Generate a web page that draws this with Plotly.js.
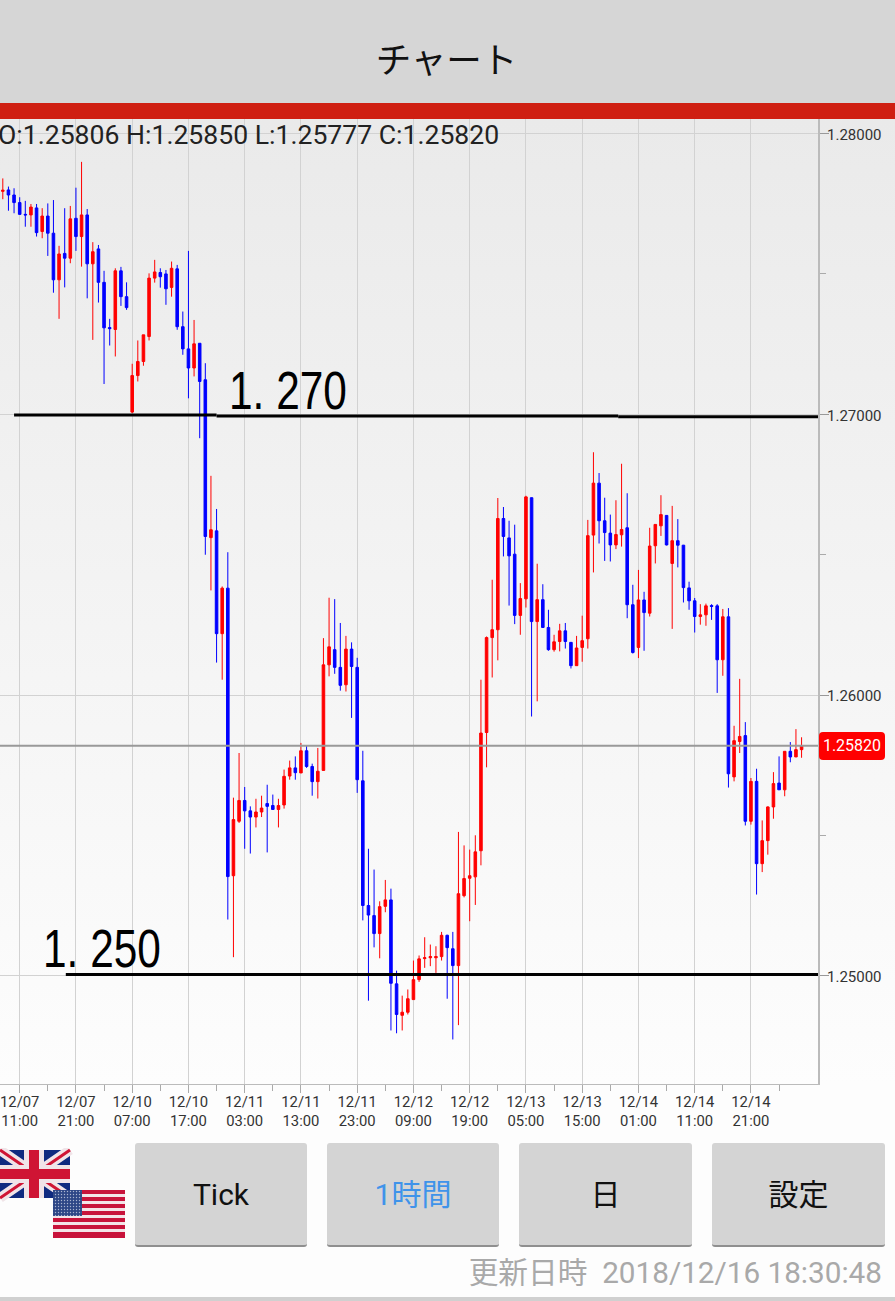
<!DOCTYPE html>
<html>
<head>
<meta charset="utf-8">
<script src="https://cdn.plot.ly/plotly-3.0.1.min.js"></script>
<style>
  html, body { margin: 0; padding: 0; width: 895px; height: 1301px; overflow: hidden; }
  body { position: relative; font-family: Roboto, "Noto Sans CJK JP", sans-serif;
         background: linear-gradient(#eaeaea 119px, #fdfdfd 1084px, #fdfdfd 1301px); }
  #chart { position: absolute; left: 0; top: 0; width: 895px; height: 1301px; }
  #head { position: absolute; left: 0; top: 0; width: 895px; height: 103px; background: #d6d6d6;
          text-align: center; line-height: 118px; font-size: 35.5px; color: #111; font-family: "Noto Sans CJK JP", sans-serif; }
  #head span { position: relative; top: -1px; left: -1px; }
  #bar { position: absolute; left: 0; top: 103px; width: 895px; height: 16px; background: #cf1f12; }
  .btn { position: absolute; top: 1143px; height: 102px; background: #d4d4d4; border-radius: 3px;
         border-bottom: 2px solid #8f8f8f; text-align: center; line-height: 104px; font-size: 30px; color: #111;
         box-sizing: content-box; font-family: Roboto, "Noto Sans CJK JP", sans-serif; }
  #stamp { position: absolute; right: 13px; top: 1255px; font-size: 29.7px; color: #a9a9a9; line-height: 36px;
           font-family: Roboto, "Noto Sans CJK JP", sans-serif; white-space: nowrap; }
  #rule { position: absolute; left: 0; top: 1297px; width: 895px; height: 4px; background: #d0d0d0; }
  #flags { position: absolute; left: 0; top: 1148px; }
  #lastTag { position: absolute; left: 819px; top: 732px; width: 66px; height: 28px; line-height: 28px; background: #ff0000;
             border-radius: 4px; color: #fff; text-align: center; font-size: 16px; font-family: Roboto, sans-serif; }
  .hand { position: absolute; font-family: "Liberation Sans", sans-serif; font-size: 53px; line-height: 60px; color: #000;
          white-space: pre; transform: scaleX(0.8); transform-origin: left top; }
</style>
</head>
<body>
<div id="chart"></div>
<div id="head"><span>チャート</span></div>
<div id="bar"></div>
<div class="hand" style="left:229px;top:361px;">1. 270</div>
<div class="hand" style="left:43px;top:919px;">1. 250</div>
<div id="lastTag"></div>
<svg id="flags" width="130" height="95" viewBox="0 0 130 95">
  <defs>
    <pattern id="stars" width="3" height="3" patternUnits="userSpaceOnUse">
      <rect width="3" height="3" fill="#2d4686"/>
      <circle cx="1.5" cy="1.5" r="0.7" fill="#aab4d0"/>
    </pattern>
  </defs>
  <rect x="0" y="2" width="70" height="48" fill="#0f2a80"/>
  <path d="M0 2 L70 50 M70 2 L0 50" stroke="#f0e4e8" stroke-width="10"/>
  <path d="M0 2 L70 50 M70 2 L0 50" stroke="#cf1434" stroke-width="3"/>
  <rect x="24" y="2" width="20" height="48" fill="#f0e4e8"/>
  <rect x="0" y="17" width="70" height="18" fill="#f0e4e8"/>
  <rect x="29" y="2" width="10" height="48" fill="#cf1434"/>
  <rect x="0" y="21" width="70" height="10" fill="#cf1434"/>
  <rect x="53" y="42" width="72" height="48" fill="#f3e4e8"/>
  <g fill="#c8133b">
    <rect x="53" y="42" width="72" height="4"/><rect x="53" y="49" width="72" height="4"/>
    <rect x="53" y="56" width="72" height="4"/><rect x="53" y="63" width="72" height="4"/>
    <rect x="53" y="70" width="72" height="4"/><rect x="53" y="77" width="72" height="4"/>
    <rect x="53" y="84" width="72" height="6"/>
  </g>
  <rect x="53" y="42" width="29" height="26" fill="url(#stars)"/>
</svg>
<div class="btn" style="left:135px;width:172px;">Tick</div>
<div class="btn" style="left:327px;width:172px;color:#3f93ea;">1時間</div>
<div class="btn" style="left:519px;width:173px;">日</div>
<div class="btn" style="left:712px;width:173px;">設定</div>
<div id="stamp">更新日時&nbsp; 2018/12/16 18:30:48</div>
<div id="rule"></div>
<script>
// hourly candles
const openVals = [
  1.27794, 1.27799, 1.27781, 1.27754, 1.27712, 1.27710, 1.27735, 1.27651, 1.27706, 1.27645,
  1.27479, 1.27573, 1.27556, 1.27698, 1.27633, 1.27710, 1.27536, 1.27589, 1.27470, 1.27309,
  1.27302, 1.27511, 1.27419, 1.27008, 1.27138, 1.27188, 1.27277, 1.27485, 1.27505, 1.27500,
  1.27452, 1.27518, 1.27312, 1.27233, 1.27165, 1.27253, 1.27123, 1.26561, 1.26585, 1.26219,
  1.26381, 1.25357, 1.25551, 1.25625, 1.25588, 1.25566, 1.25584, 1.25614, 1.25607, 1.25593,
  1.25609, 1.25712, 1.25741, 1.25723, 1.25802, 1.25746, 1.25692, 1.25732, 1.26108, 1.26162,
  1.26099, 1.26037, 1.26164, 1.26099, 1.25695, 1.25251, 1.25215, 1.25151, 1.25248, 1.25271,
  1.24972, 1.24860, 1.24871, 1.24916, 1.24987, 1.25062, 1.25065, 1.25065, 1.25069, 1.25145,
  1.25097, 1.25037, 1.25286, 1.25348, 1.25353, 1.25446, 1.25867, 1.26205, 1.26233, 1.26629,
  1.26560, 1.26502, 1.26284, 1.26343, 1.26703, 1.26262, 1.26340, 1.26241, 1.26162, 1.26191,
  1.26229, 1.26188, 1.26105, 1.26170, 1.26201, 1.26570, 1.26755, 1.26621, 1.26577, 1.26535,
  1.26571, 1.26596, 1.26322, 1.26170, 1.26339, 1.26292, 1.26532, 1.26603, 1.26640, 1.26469,
  1.26550, 1.26534, 1.26382, 1.26336, 1.26280, 1.26286, 1.26319, 1.26318, 1.26126, 1.26279,
  1.25709, 1.25835, 1.25856, 1.25551, 1.25693, 1.25400, 1.25482, 1.25602, 1.25687, 1.25663,
  1.25800, 1.25780, 1.25806
];
const highVals = [
  1.27840, 1.27811, 1.27805, 1.27773, 1.27760, 1.27749, 1.27749, 1.27734, 1.27751, 1.27763,
  1.27600, 1.27734, 1.27742, 1.27807, 1.27899, 1.27731, 1.27613, 1.27603, 1.27511, 1.27340,
  1.27520, 1.27525, 1.27470, 1.27180, 1.27263, 1.27283, 1.27502, 1.27550, 1.27520, 1.27514,
  1.27544, 1.27532, 1.27366, 1.27582, 1.27336, 1.27253, 1.27182, 1.26781, 1.26663, 1.26387,
  1.26509, 1.25635, 1.25794, 1.25673, 1.25604, 1.25631, 1.25642, 1.25681, 1.25646, 1.25631,
  1.25735, 1.25767, 1.25782, 1.25830, 1.25820, 1.25756, 1.25812, 1.26203, 1.26347, 1.26342,
  1.26257, 1.26211, 1.26188, 1.26133, 1.25802, 1.25453, 1.25379, 1.25266, 1.25342, 1.25311,
  1.25019, 1.24930, 1.24952, 1.25055, 1.25073, 1.25138, 1.25112, 1.25106, 1.25157, 1.25147,
  1.25157, 1.25513, 1.25465, 1.25450, 1.25501, 1.26055, 1.26209, 1.26411, 1.26702, 1.26670,
  1.26621, 1.26607, 1.26399, 1.26710, 1.26704, 1.26468, 1.26395, 1.26304, 1.26215, 1.26254,
  1.26257, 1.26189, 1.26211, 1.26283, 1.26624, 1.26865, 1.26791, 1.26703, 1.26643, 1.26694,
  1.26824, 1.26719, 1.26393, 1.26446, 1.26368, 1.26596, 1.26608, 1.26712, 1.26641, 1.26674,
  1.26627, 1.26535, 1.26404, 1.26346, 1.26324, 1.26326, 1.26324, 1.26324, 1.26307, 1.26310,
  1.25891, 1.26058, 1.25904, 1.25705, 1.25738, 1.25554, 1.25604, 1.25726, 1.25782, 1.25800,
  1.25833, 1.25879, 1.25850
];
const lowVals = [
  1.27766, 1.27725, 1.27716, 1.27710, 1.27668, 1.27668, 1.27633, 1.27627, 1.27564, 1.27433,
  1.27340, 1.27452, 1.27538, 1.27582, 1.27526, 1.27413, 1.27265, 1.27398, 1.27108, 1.27245,
  1.27206, 1.27386, 1.27372, 1.27004, 1.27117, 1.27173, 1.27263, 1.27469, 1.27451, 1.27390,
  1.27419, 1.27301, 1.27212, 1.27057, 1.27135, 1.26915, 1.26500, 1.26373, 1.26116, 1.26055,
  1.25201, 1.25067, 1.25545, 1.25453, 1.25436, 1.25529, 1.25566, 1.25440, 1.25593, 1.25529,
  1.25596, 1.25699, 1.25699, 1.25723, 1.25741, 1.25642, 1.25632, 1.25732, 1.26067, 1.26076,
  1.26016, 1.26013, 1.25919, 1.25652, 1.25198, 1.24912, 1.25102, 1.25063, 1.25227, 1.24806,
  1.24796, 1.24806, 1.24863, 1.24916, 1.24979, 1.25029, 1.25035, 1.25011, 1.25055, 1.24919,
  1.24774, 1.24825, 1.25280, 1.25195, 1.25253, 1.25394, 1.25743, 1.26063, 1.26124, 1.26494,
  1.26319, 1.26253, 1.26215, 1.26312, 1.25924, 1.25978, 1.26241, 1.26158, 1.26155, 1.26156,
  1.26166, 1.26095, 1.26105, 1.26119, 1.26166, 1.26437, 1.26540, 1.26478, 1.26476, 1.26520,
  1.26529, 1.26274, 1.26148, 1.26132, 1.26158, 1.26280, 1.26469, 1.26567, 1.26533, 1.26236,
  1.26455, 1.26330, 1.26304, 1.26223, 1.26251, 1.26247, 1.26268, 1.26008, 1.26069, 1.25671,
  1.25693, 1.25794, 1.25536, 1.25539, 1.25290, 1.25370, 1.25432, 1.25560, 1.25663, 1.25640,
  1.25761, 1.25780, 1.25777
];
const closeVals = [
  1.27798, 1.27781, 1.27754, 1.27712, 1.27710, 1.27738, 1.27647, 1.27706, 1.27645, 1.27479,
  1.27571, 1.27556, 1.27696, 1.27633, 1.27710, 1.27536, 1.27579, 1.27470, 1.27308, 1.27305,
  1.27511, 1.27419, 1.27380, 1.27138, 1.27188, 1.27283, 1.27485, 1.27507, 1.27490, 1.27447,
  1.27520, 1.27312, 1.27233, 1.27165, 1.27251, 1.27117, 1.26565, 1.26589, 1.26219, 1.26381,
  1.25354, 1.25557, 1.25625, 1.25588, 1.25566, 1.25584, 1.25598, 1.25604, 1.25593, 1.25607,
  1.25711, 1.25741, 1.25724, 1.25802, 1.25746, 1.25692, 1.25729, 1.26108, 1.26172, 1.26099,
  1.26035, 1.26164, 1.26102, 1.25699, 1.25251, 1.25217, 1.25151, 1.25247, 1.25271, 1.24974,
  1.24863, 1.24871, 1.24919, 1.24987, 1.25061, 1.25065, 1.25069, 1.25069, 1.25145, 1.25101,
  1.25037, 1.25293, 1.25347, 1.25357, 1.25442, 1.25865, 1.26205, 1.26233, 1.26629, 1.26565,
  1.26496, 1.26284, 1.26344, 1.26706, 1.26262, 1.26340, 1.26241, 1.26162, 1.26190, 1.26229,
  1.26191, 1.26105, 1.26168, 1.26194, 1.26568, 1.26755, 1.26621, 1.26579, 1.26535, 1.26572,
  1.26590, 1.26322, 1.26152, 1.26339, 1.26294, 1.26531, 1.26608, 1.26643, 1.26535, 1.26550,
  1.26534, 1.26383, 1.26336, 1.26280, 1.26286, 1.26318, 1.26316, 1.26126, 1.26279, 1.25720,
  1.25838, 1.25853, 1.25551, 1.25693, 1.25400, 1.25482, 1.25602, 1.25685, 1.25663, 1.25800,
  1.25780, 1.25806, 1.25820
];

const tickHours = [3, 13, 23, 33, 43, 53, 63, 73, 83, 93, 103, 113, 123, 133];
const tickLabels = [
  '12/07<br>11:00', '12/07<br>21:00', '12/10<br>07:00', '12/10<br>17:00', '12/11<br>03:00',
  '12/11<br>13:00', '12/11<br>23:00', '12/12<br>09:00', '12/12<br>19:00', '12/13<br>05:00',
  '12/13<br>15:00', '12/14<br>01:00', '12/14<br>11:00', '12/14<br>21:00'
];
const priceTicks = [1.25, 1.26, 1.27, 1.28];
const priceLabels = ['1.25000', '1.26000', '1.27000', '1.28000'];

// hand drawn levels on the screenshot, [from hour, to hour, price]
const level270 = [[2, 38, 1.26998], [38, 109.4, 1.26994], [109.4, 144.92, 1.26991]];
const level250 = [[11.2, 144.92, 1.25005]];

const last = openVals.length - 1;
const lastClose = closeVals[last];
const hours = openVals.map((_, i) => i);

document.getElementById('lastTag').textContent = lastClose.toFixed(5);

const trace = {
  type: 'candlestick',
  x: hours,
  open: openVals,
  high: highVals,
  low: lowVals,
  close: closeVals,
  increasing: { line: { color: '#ff0000', width: 1 }, fillcolor: '#ff0000' },
  decreasing: { line: { color: '#0000ff', width: 1 }, fillcolor: '#0000ff' },
  whiskerwidth: 0,
  hoverinfo: 'skip'
};

function levelShapes(segments) {
  return segments.map(([x0, x1, y]) => ({
    type: 'line', xref: 'x', yref: 'y', x0, x1, y0: y, y1: y,
    line: { color: '#000', width: 3 }, layer: 'above'
  }));
}

const layout = {
  width: 895,
  height: 1301,
  margin: { l: 0, r: 77, t: 119, b: 217, pad: 0 },
  paper_bgcolor: 'rgba(0,0,0,0)',
  plot_bgcolor: 'rgba(0,0,0,0)',
  showlegend: false,
  dragmode: false,
  boxgap: 0.35,
  font: { family: 'Roboto, sans-serif', size: 15, color: '#333' },
  xaxis: {
    type: 'linear',
    range: [-0.5, 144.92],
    rangeslider: { visible: false },
    tickmode: 'array',
    tickvals: tickHours,
    ticktext: tickLabels,
    ticks: 'outside',
    ticklen: 8,
    tickcolor: '#aaa',
    ticklabelstandoff: -4,
    ticklabeloverflow: 'allow',
    showgrid: true,
    gridcolor: '#d2d2d2',
    gridwidth: 1,
    zeroline: false,
    showline: true,
    linecolor: '#bbb',
    linewidth: 1,
    tickfont: { family: 'Roboto, sans-serif', size: 14.8, color: '#333' },
    minor: { tickmode: 'linear', tick0: 8, dtick: 10, ticks: 'outside', ticklen: 6, tickcolor: '#aaa', showgrid: false }
  },
  yaxis: {
    side: 'right',
    range: [1.246154, 1.280516],
    tickmode: 'array',
    tickvals: priceTicks,
    ticktext: priceLabels,
    ticks: 'outside',
    ticklen: 9,
    tickcolor: '#999',
    ticklabelstandoff: -5,
    ticklabelshift: 1,
    showgrid: true,
    gridcolor: '#d2d2d2',
    zeroline: false,
    showline: true,
    linecolor: '#bbb',
    linewidth: 2,
    tickfont: { family: 'Roboto, sans-serif', size: 15, color: '#333' },
    minor: { tickmode: 'linear', tick0: 1.245, dtick: 0.01, ticks: 'outside', ticklen: 6, tickcolor: '#aaa', showgrid: false }
  },
  shapes: [
    {
      type: 'line', xref: 'paper', yref: 'y', x0: 0, x1: 1, y0: lastClose, y1: lastClose,
      line: { color: '#999', width: 2 }, layer: 'above'
    },
    ...levelShapes(level270),
    ...levelShapes(level250)
  ],
  annotations: [
    {
      text: `O:${openVals[last].toFixed(5)} H:${highVals[last].toFixed(5)} L:${lowVals[last].toFixed(5)} C:${lastClose.toFixed(5)}`,
      xref: 'paper', yref: 'paper', x: -0.005, y: 1, xanchor: 'left', yanchor: 'top', yshift: 2,
      showarrow: false, font: { family: 'Roboto, sans-serif', size: 26.6, color: '#222' }
    }
  ]
};

Plotly.newPlot('chart', [trace], layout, { displayModeBar: false, staticPlot: true });
</script>
</body>
</html>
